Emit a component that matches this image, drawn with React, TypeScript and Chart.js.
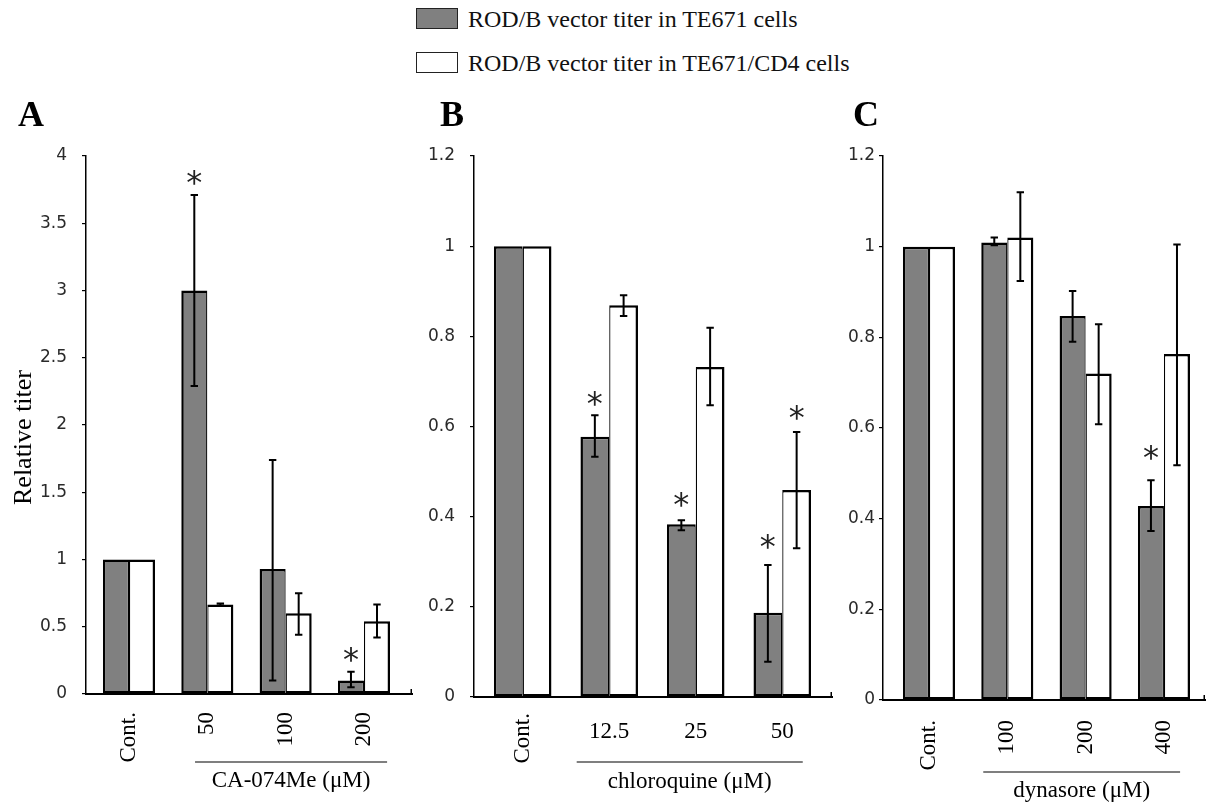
import React, { useEffect, useRef } from "react";
import { Chart, registerables } from "chart.js";

Chart.register(...registerables);

// ---------------- Series names ----------------
const SERIES_TE671 = "ROD/B vector titer in TE671 cells";
const SERIES_CD4 = "ROD/B vector titer in TE671/CD4 cells";

// ---------------- Panel A : CA-074Me ----------------
const aCategories = ["Cont.", "50", "100", "200"];
const aRotated = [true, true, true, true];
const aTE671 = [1.0, 3.0, 0.93, 0.1];
const aTE671Low = [null, 2.29, 0.1, 0.05];
const aTE671High = [null, 3.71, 1.74, 0.165];
const aCD4 = [1.0, 0.665, 0.6, 0.54];
const aCD4Low = [null, 0.657, 0.44, 0.42];
const aCD4High = [null, 0.672, 0.75, 0.665];
const aTE671Star = [null, 3.84, null, 0.29];
const aCD4Star = [null, null, null, null];
const aYTicks = [0, 0.5, 1, 1.5, 2, 2.5, 3, 3.5, 4];
const aGroupTitle = "CA-074Me (μM)";

// ---------------- Panel B : chloroquine ----------------
const bCategories = ["Cont.", "12.5", "25", "50"];
const bRotated = [true, false, false, false];
const bTE671 = [1.0, 0.577, 0.383, 0.187];
const bTE671Low = [null, 0.533, 0.37, 0.078];
const bTE671High = [null, 0.625, 0.392, 0.293];
const bCD4 = [1.0, 0.869, 0.732, 0.459];
const bCD4Low = [null, 0.845, 0.647, 0.33];
const bCD4High = [null, 0.891, 0.819, 0.588];
const bTE671Star = [null, 0.663, 0.437, 0.344];
const bCD4Star = [null, null, null, 0.632];
const bYTicks = [0, 0.2, 0.4, 0.6, 0.8, 1, 1.2];
const bGroupTitle = "chloroquine (μM)";

// ---------------- Panel C : dynasore ----------------
const cCategories = ["Cont.", "100", "200", "400"];
const cRotated = [true, true, true, true];
const cTE671 = [1.0, 1.009, 0.847, 0.428];
const cTE671Low = [null, 1.003, 0.79, 0.373];
const cTE671High = [null, 1.02, 0.902, 0.485];
const cCD4 = [1.0, 1.02, 0.72, 0.763];
const cCD4Low = [null, 0.924, 0.608, 0.518];
const cCD4High = [null, 1.12, 0.829, 1.005];
const cTE671Star = [null, null, null, 0.547];
const cCD4Star = [null, null, null, null];
const cYTicks = [0, 0.2, 0.4, 0.6, 0.8, 1, 1.2];
const cGroupTitle = "dynasore (μM)";

const Y_TITLE = "Relative titer";

type Num = number | null;
type PanelData = {
  letter: string;
  categories: string[];
  rotated: boolean[];
  te: number[];
  teLow: Num[];
  teHigh: Num[];
  cd: number[];
  cdLow: Num[];
  cdHigh: Num[];
  teStar: Num[];
  cdStar: Num[];
  yTicks: number[];
  groupTitle: string;
  yTitle?: string;
};
type PanelLayout = {
  left: number;
  top: number;
  width: number;
  height: number;
  plotLeft: number;
  plotRight: number;
  plotTop: number;
  plotBottom: number;
  xMin: number;
  xMax: number;
  tickPad: number;
  rotOffset: number;
  horizOffset: number;
  bracketFrom: number;
  bracketTo: number;
  bracketY: number;
  titleY: number;
  letterX: number;
  letterBaseline: number;
  yTitleX?: number;
  yTitleY?: number;
};

const panels: { data: PanelData; layout: PanelLayout }[] = [
  {
    data: {
      letter: "A",
      categories: aCategories,
      rotated: aRotated,
      te: aTE671,
      teLow: aTE671Low,
      teHigh: aTE671High,
      cd: aCD4,
      cdLow: aCD4Low,
      cdHigh: aCD4High,
      teStar: aTE671Star,
      cdStar: aCD4Star,
      yTicks: aYTicks,
      groupTitle: aGroupTitle,
      yTitle: Y_TITLE,
    },
    layout: {
      left: 0,
      top: 90,
      width: 413,
      height: 714,
      plotLeft: 86,
      plotRight: 412,
      plotTop: 156,
      plotBottom: 694,
      xMin: -0.549,
      xMax: 3.613,
      tickPad: 15,
      rotOffset: 18,
      horizOffset: 35,
      bracketFrom: 0.843,
      bracketTo: 3.295,
      bracketY: 68,
      titleY: 93,
      letterX: 18,
      letterBaseline: 125.5,
      yTitleX: 31,
      yTitleY: 437.5,
    },
  },
  {
    data: {
      letter: "B",
      categories: bCategories,
      rotated: bRotated,
      te: bTE671,
      teLow: bTE671Low,
      teHigh: bTE671High,
      cd: bCD4,
      cdLow: bCD4Low,
      cdHigh: bCD4High,
      teStar: bTE671Star,
      cdStar: bCD4Star,
      yTicks: bYTicks,
      groupTitle: bGroupTitle,
    },
    layout: {
      left: 413,
      top: 90,
      width: 425,
      height: 714,
      plotLeft: 474,
      plotRight: 832,
      plotTop: 156,
      plotBottom: 697,
      xMin: -0.563,
      xMax: 3.575,
      tickPad: 15,
      rotOffset: 16,
      horizOffset: 35,
      bracketFrom: 0.624,
      bracketTo: 3.237,
      bracketY: 65,
      titleY: 91,
      letterX: 440,
      letterBaseline: 125.5,
    },
  },
  {
    data: {
      letter: "C",
      categories: cCategories,
      rotated: cRotated,
      te: cTE671,
      teLow: cTE671Low,
      teHigh: cTE671High,
      cd: cCD4,
      cdLow: cCD4Low,
      cdHigh: cCD4High,
      teStar: cTE671Star,
      cdStar: cCD4Star,
      yTicks: cYTicks,
      groupTitle: cGroupTitle,
    },
    layout: {
      left: 838,
      top: 90,
      width: 368,
      height: 714,
      plotLeft: 883,
      plotRight: 1205,
      plotTop: 156,
      plotBottom: 700,
      xMin: -0.587,
      xMax: 3.524,
      tickPad: 4,
      rotOffset: 20,
      horizOffset: 35,
      bracketFrom: 0.693,
      bracketTo: 3.206,
      bracketY: 72,
      titleY: 97,
      letterX: 853,
      letterBaseline: 125.5,
    },
  },
];

const SERIF = '"Liberation Serif", "Times New Roman", serif';
const SANS = '"DejaVu Sans", Verdana, sans-serif';
const GRAY = "#808080";

function makePlugin(d: PanelData, L: PanelLayout) {
  return {
    id: "panelOverlay" + d.letter,
    afterDatasetsDraw(chart: any) {
      const ctx = chart.ctx as CanvasRenderingContext2D;
      const ys = chart.scales.y;
      const sets: [Num[], Num[], Num[]][] = [
        [d.teLow, d.teHigh, d.teStar],
        [d.cdLow, d.cdHigh, d.cdStar],
      ];
      sets.forEach(([lo, hi, st], di) => {
        const meta = chart.getDatasetMeta(di);
        meta.data.forEach((bar: any, i: number) => {
          const x = bar.x;
          const l = lo[i];
          const h = hi[i];
          if (l != null && h != null) {
            const y1 = ys.getPixelForValue(h);
            const y2 = ys.getPixelForValue(l);
            ctx.save();
            ctx.strokeStyle = "#000";
            ctx.lineWidth = 2;
            ctx.beginPath();
            ctx.moveTo(x, y1);
            ctx.lineTo(x, y2);
            ctx.moveTo(x - 3.7, y1);
            ctx.lineTo(x + 3.7, y1);
            ctx.moveTo(x - 3.7, y2);
            ctx.lineTo(x + 3.7, y2);
            ctx.stroke();
            ctx.restore();
          }
          const s = st[i];
          if (s != null) {
            const yc = ys.getPixelForValue(s);
            ctx.save();
            ctx.fillStyle = "#222";
            ctx.font = `32px ${SANS}`;
            ctx.textAlign = "center";
            ctx.textBaseline = "alphabetic";
            const m = ctx.measureText("*");
            const asc = m.actualBoundingBoxAscent;
            const desc = m.actualBoundingBoxDescent;
            ctx.fillText("*", x, yc + (asc - desc) / 2);
            ctx.restore();
          }
        });
      });
    },
    afterDraw(chart: any) {
      const ctx = chart.ctx as CanvasRenderingContext2D;
      const xs = chart.scales.x;
      const y0 = chart.scales.y.getPixelForValue(0);
      const area = chart.chartArea;
      ctx.save();
      // small end tick at the right of the x axis
      ctx.strokeStyle = "#000";
      ctx.lineWidth = 1.5;
      ctx.beginPath();
      ctx.moveTo(area.right - 0.75, y0 + 1);
      ctx.lineTo(area.right - 0.75, y0 - 5);
      ctx.stroke();

      // category labels
      ctx.fillStyle = "#000";
      ctx.font = `23px ${SERIF}`;
      d.categories.forEach((lab, i) => {
        const cx = xs.getPixelForValue(i);
        if (d.rotated[i]) {
          ctx.save();
          ctx.translate(cx, y0 + L.rotOffset);
          ctx.rotate(-Math.PI / 2);
          ctx.textAlign = "right";
          ctx.textBaseline = "middle";
          ctx.fillText(lab, 0, 0);
          ctx.restore();
        } else {
          ctx.textAlign = "center";
          ctx.textBaseline = "middle";
          ctx.fillText(lab, cx, y0 + L.horizOffset);
        }
      });

      // treatment bracket + title
      const bx1 = xs.getPixelForValue(L.bracketFrom);
      const bx2 = xs.getPixelForValue(L.bracketTo);
      ctx.strokeStyle = "#000";
      ctx.lineWidth = 1.2;
      ctx.beginPath();
      ctx.moveTo(bx1, y0 + L.bracketY);
      ctx.lineTo(bx2, y0 + L.bracketY);
      ctx.stroke();
      ctx.textAlign = "center";
      ctx.textBaseline = "alphabetic";
      ctx.fillText(d.groupTitle, (bx1 + bx2) / 2, y0 + L.titleY);

      // panel letter
      ctx.font = `bold 36px ${SERIF}`;
      ctx.textAlign = "left";
      ctx.textBaseline = "alphabetic";
      ctx.fillText(d.letter, L.letterX - L.left, L.letterBaseline - L.top);

      // y-axis title
      if (d.yTitle && L.yTitleX != null && L.yTitleY != null) {
        ctx.save();
        ctx.font = `26px ${SERIF}`;
        ctx.translate(L.yTitleX - L.left, L.yTitleY - L.top);
        ctx.rotate(-Math.PI / 2);
        ctx.textAlign = "center";
        ctx.textBaseline = "alphabetic";
        ctx.fillText(d.yTitle, 0, 0);
        ctx.restore();
      }
      ctx.restore();
    },
  };
}

function Panel({ data, layout }: { data: PanelData; layout: PanelLayout }) {
  const ref = useRef<HTMLCanvasElement | null>(null);
  useEffect(() => {
    const canvas = ref.current;
    if (!canvas) return;
    const L = layout;
    const d = data;
    const yWidth = L.plotLeft - L.left;
    const xHeight = L.top + L.height - L.plotBottom;
    const chart = new Chart(canvas, {
      type: "bar",
      data: {
        datasets: [
          {
            label: SERIES_TE671,
            data: d.categories.map((_, i) => ({ x: i, y: d.te[i] })),
            backgroundColor: GRAY,
            borderColor: "#000",
            borderWidth: { left: 2.5, right: 1.25, top: 2.5, bottom: 2.5 },
            borderSkipped: false,
            categoryPercentage: 0.665,
            barPercentage: 1,
          },
          {
            label: SERIES_CD4,
            data: d.categories.map((_, i) => ({ x: i, y: d.cd[i] })),
            backgroundColor: "#ffffff",
            borderColor: "#000",
            borderWidth: { left: 1.25, right: 2.5, top: 2.5, bottom: 2.5 },
            borderSkipped: false,
            categoryPercentage: 0.665,
            barPercentage: 1,
          },
        ],
      } as any,
      options: {
        animation: false,
        responsive: false,
        layout: {
          padding: {
            top: L.plotTop - L.top,
            right: L.left + L.width - L.plotRight,
            left: 0,
            bottom: 0,
          },
        },
        plugins: {
          legend: { display: false },
          tooltip: { enabled: false },
        },
        scales: {
          x: {
            type: "linear",
            offset: false,
            min: L.xMin,
            max: L.xMax,
            afterBuildTicks: (s: any) => {
              s.ticks = d.categories.map((_, i) => ({ value: i }));
            },
            afterFit: (s: any) => {
              s.height = xHeight;
            },
            ticks: { display: false },
            grid: { display: false },
            border: { display: true, color: "#000", width: 2 },
          },
          y: {
            min: d.yTicks[0],
            max: d.yTicks[d.yTicks.length - 1],
            afterBuildTicks: (s: any) => {
              s.ticks = d.yTicks.map((v) => ({ value: v }));
            },
            afterFit: (s: any) => {
              s.width = yWidth;
            },
            ticks: {
              color: "#2a2a2a",
              font: { family: SANS, size: 17 },
              padding: L.tickPad,
              callback: (v: any) => String(v),
            },
            grid: {
              drawOnChartArea: false,
              drawTicks: true,
              tickLength: 4,
              color: "#000",
              lineWidth: 1.2,
            },
            border: { display: true, color: "#000", width: 1.5 },
          },
        },
      } as any,
      plugins: [makePlugin(d, L)],
    });
    return () => chart.destroy();
  }, [data, layout]);
  return (
    <canvas
      ref={ref}
      width={layout.width}
      height={layout.height}
      style={{
        position: "absolute",
        left: layout.left,
        top: layout.top,
        width: layout.width,
        height: layout.height,
        display: "block",
      }}
    />
  );
}

function LegendRow({ top, fill, label }: { top: number; fill: string; label: string }) {
  return (
    <>
      <div
        style={{
          position: "absolute",
          left: 416,
          top: top,
          width: 42,
          height: 21,
          background: fill,
          border: "1px solid #222",
          boxSizing: "border-box",
        }}
      />
      <div
        style={{
          position: "absolute",
          left: 468,
          top: top - 1,
          fontFamily: SERIF,
          fontSize: 24,
          lineHeight: "24px",
          whiteSpace: "nowrap",
          color: "#111",
        }}
      >
        {label}
      </div>
    </>
  );
}

export default function App() {
  return (
    <div
      style={{
        position: "absolute",
        left: 0,
        top: 0,
        width: 1207,
        height: 804,
        background: "#fff",
        overflow: "hidden",
      }}
    >
      <LegendRow top={8.3} fill={GRAY} label={SERIES_TE671} />
      <LegendRow top={52.3} fill="#ffffff" label={SERIES_CD4} />
      {panels.map((p) => (
        <Panel key={p.data.letter} data={p.data} layout={p.layout} />
      ))}
    </div>
  );
}
